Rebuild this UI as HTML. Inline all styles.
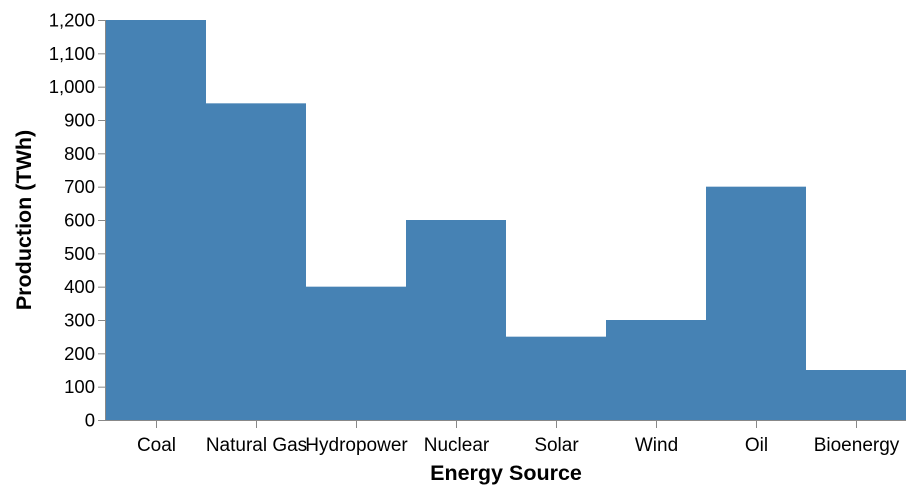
<!DOCTYPE html>
<html><head><meta charset="utf-8"><style>
html,body{margin:0;padding:0;background:#fff;}
svg{display:block;font-family:"Liberation Sans",Arial,sans-serif;}
</style></head><body>
<svg id="chart" width="916" height="494"></svg>
<script>
const categories=["Coal","Natural Gas","Hydropower","Nuclear","Solar","Wind","Oil","Bioenergy"];
const values=[1200,950,400,600,250,300,700,150];
const yTicks=[0,100,200,300,400,500,600,700,800,900,1000,1100,1200];
const yTickLabels=["0","100","200","300","400","500","600","700","800","900","1,000","1,100","1,200"];
const NS="http://www.w3.org/2000/svg";
const svg=document.getElementById('chart');
const X0=106,X1=906,Y0=420,Y1=20,YMAX=1200;
const bw=(X1-X0)/categories.length;
function xs(i){return X0+i*bw;}
function ys(v){return Y0-(v/YMAX)*(Y0-Y1);}
function mk(t,a,p){const e=document.createElementNS(NS,t);for(const k in a)e.setAttribute(k,a[k]);(p||svg).appendChild(e);return e;}
const bars=mk('g',{});


values.forEach((v,i)=>{
  const r=mk('rect',{x:xs(i),y:ys(v),width:bw,height:Y0-ys(v),fill:'#4682b4'},bars);
  
  
});
const ya=mk('g',{});


mk('line',{x1:X0-0.5,x2:X0-0.5,y1:Y1,y2:Y0,stroke:'#888'},ya);
yTicks.forEach((t,i)=>{
  const y=ys(t)+0.5;
  mk('line',{x1:X0-8,x2:X0,y1:y,y2:y,stroke:'#888'},ya);
  const tx=mk('text',{x:X0-11,y:y+6,'text-anchor':'end','font-size':18.5,fill:'#000'},ya);
  tx.textContent=yTickLabels[i];
  
  
});
const yt=mk('text',{x:0,y:0,transform:'translate(31,220) rotate(-90)','text-anchor':'middle','font-size':21.5,'font-weight':'bold',fill:'#000'},ya);
yt.textContent='Production (TWh)';


const xa=mk('g',{});


mk('line',{x1:X0,x2:X1,y1:Y0+0.5,y2:Y0+0.5,stroke:'#888'},xa);
categories.forEach((c,i)=>{
  const x=xs(i)+bw/2+0.5;
  mk('line',{x1:x,x2:x,y1:Y0,y2:Y0+8,stroke:'#888'},xa);
  const tx=mk('text',{x:x,y:451,'text-anchor':'middle','font-size':19,fill:'#000'},xa);
  tx.textContent=c;
  
  
});
const xt=mk('text',{x:(X0+X1)/2,y:480,'text-anchor':'middle','font-size':21.5,'font-weight':'bold',fill:'#000'},xa);
xt.textContent='Energy Source';


</script>
</body></html>
